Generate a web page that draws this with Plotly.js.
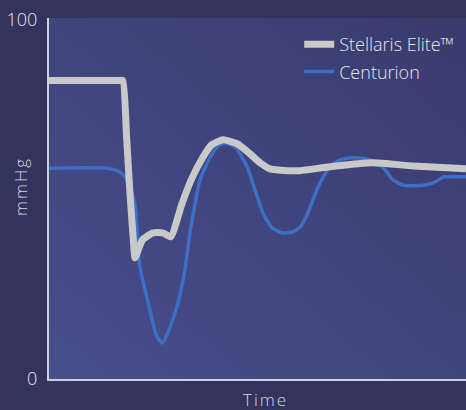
<!DOCTYPE html>
<html>
<head>
<meta charset="utf-8">
<script src="https://cdn.plot.ly/plotly-3.0.1.min.js"></script>
<style>
html,body{margin:0;padding:0;background:#32345d;}
#chart{width:466px;height:410px;}
#chart .annotation-text{letter-spacing:2px;}
</style>
</head>
<body>
<div id="chart"></div>
<script>
// Time axis (arbitrary units 0-100) and pressure values (mmHg)
const stellarisTime = [0, 16.9, 17.7, 18.6, 19.4, 20.3, 20.6, 21.1, 22.4, 24.9, 27.3, 29.2, 31.8, 34.2, 36.7, 39.0, 41.7, 45.1, 48.2, 50.6, 53.0, 57.1, 60.2, 67.4, 77.7, 87.3, 100];
const stellarisValues = [83.1, 83.1, 83.1, 67.5, 52.0, 37.5, 33.7, 35.0, 38.7, 40.7, 40.7, 39.6, 48.5, 55.7, 61.3, 65.2, 66.6, 65.5, 62.7, 60.2, 58.5, 58.0, 58.0, 59.1, 60.2, 59.3, 58.5];

const centurionTime = [0, 13.9, 16.5, 18.2, 19.4, 20.6, 21.3, 21.8, 24.2, 25.7, 27.1, 28.3, 30.7, 32.6, 33.8, 35.0, 36.2, 38.6, 40.5, 42.2, 44.6, 47.5, 49.4, 51.3, 53.5, 55.9, 58.3, 60.2, 61.9, 63.3, 65.0, 67.4, 69.8, 72.9, 75.8, 78.7, 80.6, 82.5, 84.9, 87.3, 90.2, 92.1, 93.8, 94.7, 96.2, 100];
const centurionValues = [58.7, 58.7, 57.9, 56.3, 53.2, 49.0, 37.9, 31.2, 19.2, 12.3, 10.0, 12.3, 20.1, 30.4, 40.7, 48.5, 55.4, 61.6, 64.9, 65.7, 64.6, 59.1, 52.6, 46.2, 42.1, 40.7, 40.9, 42.3, 45.7, 49.9, 54.6, 59.1, 61.0, 61.6, 61.3, 60.2, 58.2, 55.4, 54.0, 53.8, 54.0, 54.6, 55.7, 56.3, 56.3, 56.3];

const seriesNames = ["Stellaris Elite™", "Centurion"];
const yTickVals = [0, 100];
const yTickText = ["0", "100"];
const xTitle = "Time";
const yTitle = "mmHg";

const bgSvg = '<svg xmlns="http://www.w3.org/2000/svg" width="400" height="400"><defs><linearGradient id="g" x1="0" y1="1" x2="1" y2="0"><stop offset="0" stop-color="#484e8c"/><stop offset="1" stop-color="#383b6e"/></linearGradient></defs><rect width="400" height="400" fill="url(#g)"/></svg>';
const bgUri = 'data:image/svg+xml;base64,' + btoa(bgSvg);

const FONT = '"Open Sans", Lato, sans-serif';

const traces = [
  {
    x: centurionTime, y: centurionValues, name: seriesNames[1],
    type: 'scatter', mode: 'lines',
    line: {color: '#3d6fc6', width: 3.5, shape: 'spline', smoothing: 0.6},
    legendgroup: 'b', legendrank: 2, hoverinfo: 'skip'
  },
  {
    x: stellarisTime, y: stellarisValues, name: seriesNames[0],
    type: 'scatter', mode: 'lines',
    line: {color: '#c9c9c9', width: 7, shape: 'spline', smoothing: 0.5},
    legendgroup: 'a', legendrank: 1, hoverinfo: 'skip'
  }
];

const layout = {
  width: 466, height: 410,
  margin: {l: 49, r: 0, t: 18, b: 31, pad: 0},
  paper_bgcolor: '#32345d',
  plot_bgcolor: 'rgba(0,0,0,0)',
  font: {family: FONT, color: '#e6e6ee', size: 16, weight: 300},
  showlegend: true,
  legend: {
    x: 0.6, y: 0.978, xanchor: 'left', yanchor: 'top',
    bgcolor: 'rgba(0,0,0,0)', borderwidth: 0,
    font: {family: FONT, size: 18, color: '#e6e6ee', weight: 300},
    traceorder: 'grouped', tracegroupgap: 1, itemwidth: 30
  },
  images: [{
    source: bgUri, xref: 'paper', yref: 'paper', x: 0, y: 1,
    sizex: 1, sizey: 1, sizing: 'stretch', layer: 'below',
    xanchor: 'left', yanchor: 'top'
  }],
  annotations: [
    {text: yTitle, xref: 'paper', yref: 'paper', x: -0.067, y: 0.532,
     xanchor: 'center', yanchor: 'middle', textangle: -90, showarrow: false,
     font: {family: FONT, size: 17, color: '#d8d8e0', weight: 300}},
    {text: xTitle, xref: 'paper', yref: 'paper', x: 0.518, y: -0.058,
     xanchor: 'center', yanchor: 'middle', showarrow: false,
     font: {family: FONT, size: 17, color: '#d8d8e0', weight: 300}}
  ],
  xaxis: {
    range: [0, 100], showgrid: false, zeroline: false,
    showticklabels: false, ticks: '',
    showline: true, linecolor: '#cfcfd6', linewidth: 2,
    fixedrange: true
  },
  yaxis: {
    range: [0, 100.5], showgrid: false, zeroline: false,
    tickvals: yTickVals, ticktext: yTickText, ticks: '',
    tickfont: {family: FONT, size: 18, color: '#e6e6ee', weight: 300},
    ticklabelstandoff: 6,
    showline: true, linecolor: '#cfcfd6', linewidth: 2,
    fixedrange: true
  }
};

Plotly.newPlot('chart', traces, layout, {displayModeBar: false, staticPlot: true});
</script>
</body>
</html>
